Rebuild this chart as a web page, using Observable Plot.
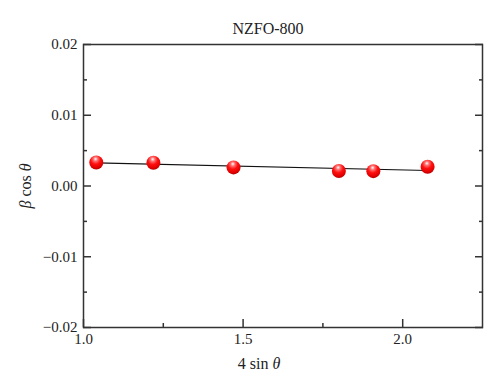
<!DOCTYPE html>
<html>
<head>
<meta charset="utf-8">
<script src="https://cdn.jsdelivr.net/npm/d3@7"></script>
<script src="https://cdn.jsdelivr.net/npm/@observablehq/plot@0.6"></script>
<style>
  html, body { margin: 0; padding: 0; background: #fff; }
</style>
</head>
<body>
<div id="chart"></div>
<script>
const chartTitle = "NZFO-800";
const xLabel = "4 sin θ";
const yLabel = "β cos θ";
const xValues = [1.040, 1.219, 1.470, 1.800, 1.908, 2.078];
const yValues = [0.00333, 0.00329, 0.00263, 0.00212, 0.00210, 0.00272];
const xMajorTicks = [1.0, 1.5, 2.0];
const xMinorTicks = [1.25, 1.75];
const yMajorTicks = [-0.02, -0.01, 0.00, 0.01, 0.02];
const yMinorTicks = [-0.015, -0.005, 0.005, 0.015];

const data = xValues.map((x, i) => ({x, y: yValues[i]}));
const font = "Liberation Serif, Times New Roman, serif";
const axisColor = "#333";

const chart = Plot.plot({
  width: 500,
  height: 391,
  marginLeft: 83,
  marginRight: 18,
  marginTop: 44,
  marginBottom: 64,
  style: {fontFamily: font, fontSize: "15px", color: "#222", background: "#fff"},
  x: {domain: [1, 2.25]},
  y: {domain: [-0.02, 0.02]},
  marks: [
    Plot.frame({stroke: axisColor, strokeWidth: 1.5}),
    Plot.axisX({ticks: xMajorTicks, tickSize: -8, tickFormat: d3.format(".1f"), tickPadding: 14, stroke: axisColor, strokeWidth: 1.5, label: null, fontSize: 15}),
    Plot.axisX({ticks: xMinorTicks, tickSize: -4, tickFormat: () => "", stroke: axisColor, strokeWidth: 1.5, label: null}),
    Plot.axisY({ticks: yMajorTicks, tickSize: -8, tickFormat: d3.format(".2f"), tickPadding: 14, stroke: axisColor, strokeWidth: 1.5, label: null, fontSize: 15}),
    Plot.axisY({ticks: yMinorTicks, tickSize: -4, tickFormat: () => "", stroke: axisColor, strokeWidth: 1.5, label: null}),
    Plot.axisY({anchor: "right", ticks: yMajorTicks, tickSize: -8, tickFormat: () => "", stroke: axisColor, strokeWidth: 1.5, label: null}),
    Plot.axisY({anchor: "right", ticks: yMinorTicks, tickSize: -4, tickFormat: () => "", stroke: axisColor, strokeWidth: 1.5, label: null}),
    Plot.text([chartTitle], {frameAnchor: "top", dx: -15, dy: -22, text: d => d, fontSize: 16, fill: "#222"}),
    Plot.text([xLabel], {frameAnchor: "bottom", textAnchor: "middle", dx: -24, dy: 41, text: d => d, fontSize: 16, fill: "#222", className: "greek-label"}),
    Plot.text([yLabel], {frameAnchor: "left", textAnchor: "middle", dx: -58, dy: 0, rotate: -90, text: d => d, fontSize: 16, fill: "#222", className: "greek-label"}),
    Plot.linearRegressionY(data, {x: "x", y: "y", ci: 0, stroke: "#111", strokeWidth: 1.2}),
    Plot.dot(data, {x: "x", y: "y", r: 7, fill: "url(#ballGrad)", stroke: "none"})
  ]
});

d3.select(chart).insert("defs", ":first-child").html(
  `<radialGradient id="ballGrad" cx="45%" cy="30%" r="70%" fx="45%" fy="25%">
     <stop offset="0" stop-color="#ffffff"/>
     <stop offset="0.22" stop-color="#ff7070"/>
     <stop offset="0.5" stop-color="#ff1010"/>
     <stop offset="0.85" stop-color="#e00000"/>
     <stop offset="1" stop-color="#b00000"/>
   </radialGradient>`
);

// Italicize Greek letters in axis labels
d3.select(chart).selectAll("g.greek-label text").each(function() {
  const txt = this.textContent;
  const node = d3.select(this);
  node.text(null);
  for (const part of txt.split(/([α-ωΑ-Ω])/)) {
    if (!part) continue;
    const ts = node.append("tspan").text(part);
    if (/[α-ωΑ-Ω]/.test(part)) ts.attr("font-style", "italic");
  }
});

document.getElementById("chart").appendChild(chart);
</script>
</body>
</html>
